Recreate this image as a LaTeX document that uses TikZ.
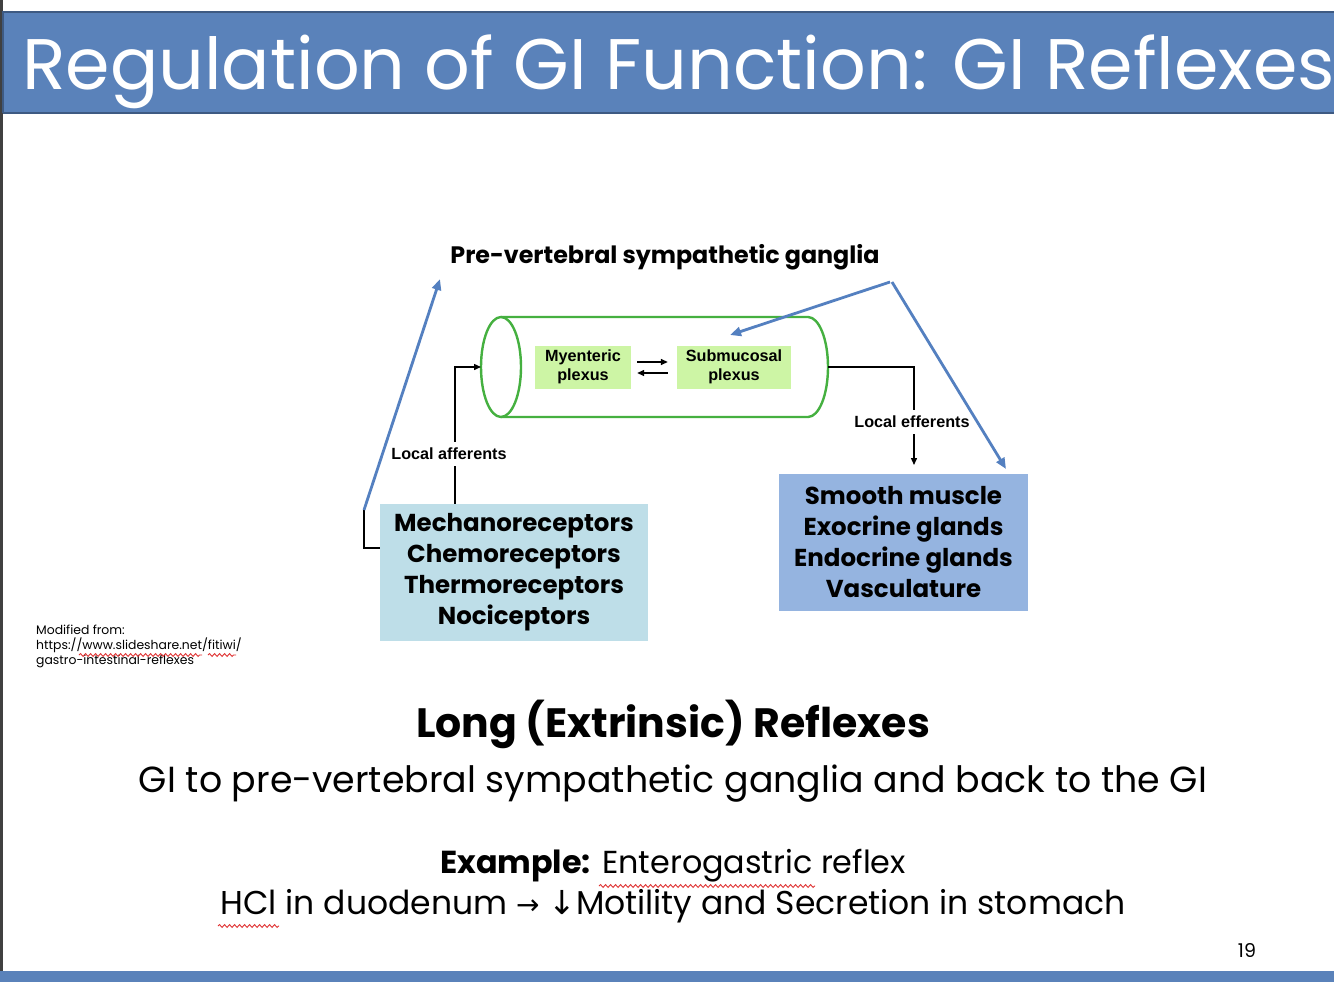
\documentclass[tikz,border=0pt]{standalone}
\usepackage{fontspec}
\setmainfont{Poppins}
\newfontfamily\arialf{Liberation Sans}
\newfontfamily\dejavu{DejaVu Sans}
\usetikzlibrary{arrows.meta,decorations.pathmorphing}
\definecolor{titleblue}{HTML}{5A82BA}
\definecolor{darkedge}{HTML}{3E5A82}
\definecolor{arrowblue}{HTML}{5480C0}
\definecolor{cylgreen}{HTML}{45B040}
\definecolor{plexgreen}{HTML}{CDF5A5}
\definecolor{sensfill}{HTML}{BEDEE8}
\definecolor{efffill}{HTML}{95B4E0}
\definecolor{squig}{HTML}{E03030}
\tikzset{
  bluearr/.style={draw=arrowblue, line width=2.8pt, -{Triangle[length=11pt,width=9pt]}},
  blkarr/.style={draw=black, line width=1.4pt, -{Triangle[length=7pt,width=6pt]}},
  blkline/.style={draw=black, line width=1.4pt},
  plexbox/.style={fill=plexgreen, minimum height=43pt, inner sep=0pt, align=center, font=\arialf\bfseries\fontsize{16.2}{19.5}\selectfont},
  bigbox/.style={minimum height=137pt, inner sep=0pt, align=center, font=\bfseries\fontsize{24.5}{31}\selectfont},
  lbl/.style={fill=white, inner xsep=1pt, inner ysep=6pt, font=\arialf\bfseries\fontsize{16.2}{18}\selectfont},
  squiggle/.style={draw=squig, line width=0.9pt, decorate, decoration={snake, amplitude=1.4pt, segment length=5pt}}
}
\begin{document}
\begin{tikzpicture}[x=1pt,y=-1pt]
\useasboundingbox (0,0) rectangle (1334,982);
\fill[white] (0,0) rectangle (1334,982);
% left edge strip
\fill[black!75] (0,0) rectangle (3,982);
% title bar
\fill[titleblue] (3,12) rectangle (1334,113);
\draw[darkedge, line width=2.5pt] (3,113) -- (3,12) -- (1334,12);
\draw[darkedge, line width=2pt] (3,113) -- (1334,113);
\node[anchor=base west, text=white, inner sep=0pt, font=\fontsize{71.6}{80}\selectfont] (title) at (22,90) {Regulation of GI Function: GI Reflexes};
% bottom bar
\fill[titleblue] (0,971) rectangle (1334,982);

% heading of diagram
\node[font=\bfseries\fontsize{23.8}{26}\selectfont, inner sep=0pt] (ganglia) at (665,257) {Pre-vertebral sympathetic ganglia};

% cylinder
\coordinate (cylL) at (481,367);
\coordinate (cylR) at (828,367);
\draw[cylgreen, line width=2.4pt] (501,367) ellipse [x radius=20pt, y radius=50pt];
\draw[cylgreen, line width=2.4pt] (501,317) -- (808,317) arc[start angle=90, end angle=-90, x radius=20pt, y radius=50pt] -- (501,417);

% plexus boxes
\node[plexbox, minimum width=96pt] (mye) at (583,367) {Myenteric\\plexus};
\node[plexbox, minimum width=114pt] (sub) at (734,367) {Submucosal\\plexus};
\draw[blkarr] ([xshift=6pt,yshift=5pt]mye.east) -- ([xshift=-9pt,yshift=5pt]sub.west);
\draw[blkarr] ([xshift=-9pt,yshift=-6pt]sub.west) -- ([xshift=6pt,yshift=-6pt]mye.east);

% receptor and effector boxes
\node[bigbox, fill=sensfill, minimum width=268pt] (sens) at (514,572.5) {Mechanoreceptors\\Chemoreceptors\\Thermoreceptors\\Nociceptors};
\node[bigbox, fill=efffill, minimum width=249pt] (eff) at (903.5,542.5) {Smooth muscle\\Exocrine glands\\Endocrine glands\\Vasculature};

% local afferents
\coordinate (affbot) at ([xshift=75pt]sens.north west);
\coordinate (bend) at (364,548);
\coordinate (gangL) at (364,510);
\draw[blkarr] (affbot) |- (cylL);
\node[lbl] (aff) at (449,454) {Local afferents};
\draw[blkline] (sens.west |- bend) -- (bend) -- (gangL);

% local efferents
\coordinate (effcorner) at (914,367);
\coordinate (efftop) at (914,465);
\draw[blkarr] (cylR) -- (effcorner) -- (efftop);
\node[lbl] (efflbl) at (912,422) {Local efferents};

% long reflex blue arrows
\coordinate (gangTL) at (440,279);
\coordinate (gangR) at (890,282);
\coordinate (subTop) at (730,335);
\coordinate (effTR) at (1006,469);
\draw[bluearr] (gangL) -- (gangTL);
\draw[bluearr] (gangR) -- (subTop);
\draw[bluearr] ([xshift=2pt]gangR) -- (effTR);

% source note
\node[anchor=north west, align=left, inner sep=0pt, font=\fontsize{12.4}{15}\selectfont] (src) at (36,625) {Modified from:\\https://www.slideshare.net/fitiwi/\\gastro-intestinal-reflexes};
\draw[squiggle] (79,655) -- (202,655);
\draw[squiggle] (208,655) -- (236,655);

% bottom texts
\node[font=\bfseries\fontsize{41}{44}\selectfont, inner sep=0pt] (long) at (673,724) {Long (Extrinsic) Reflexes};
\node[font=\fontsize{36.3}{40}\selectfont, inner sep=0pt] (gi) at (673,784) {GI to pre-vertebral sympathetic ganglia and back to the GI};
\node[font=\fontsize{31.8}{36}\selectfont, inner sep=0pt] (ex) at (673,866) {\textbf{Example:} Enterogastric reflex};
\node[font=\fontsize{33}{36}\selectfont, inner sep=0pt] (hcl) at (673,906) {HCl in duodenum {\dejavu\fontsize{28}{30}\selectfont →} {\dejavu\fontsize{33}{30}\selectfont ↓}Motility and Secretion in stomach};
\draw[squiggle] (599,886) -- (815,886);
\draw[squiggle] (218,926) -- (279,926);

\node[font=\fontsize{19}{22}\selectfont, inner sep=0pt] (page) at (1247,950) {19};
\end{tikzpicture}
\end{document}
